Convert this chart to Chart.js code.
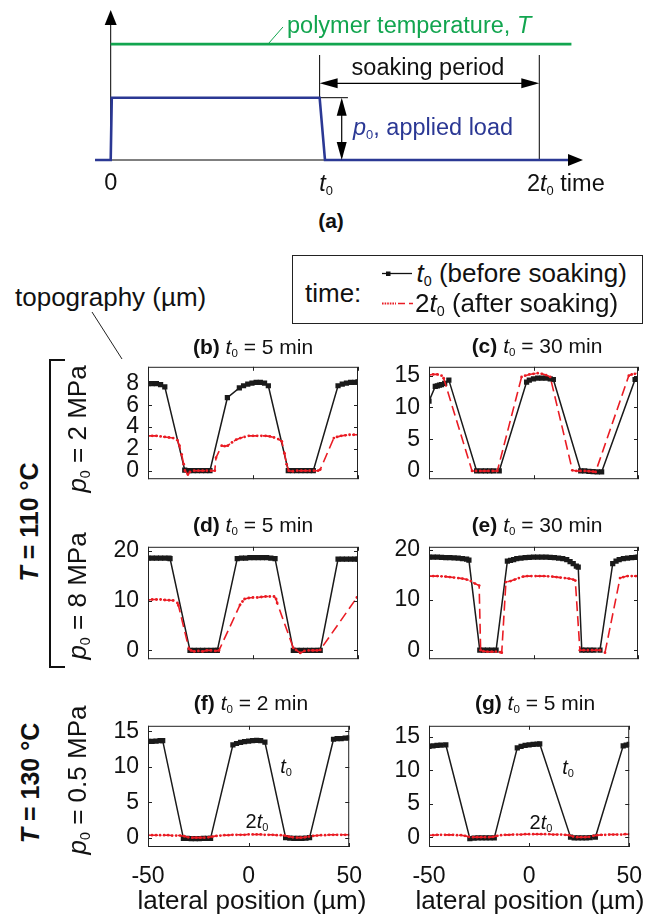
<!DOCTYPE html>
<html>
<head>
<meta charset="utf-8">
<script src="https://cdn.jsdelivr.net/npm/chart.js@4.4.1/dist/chart.umd.min.js"></script>
<style>
  body { margin: 0; background: #fff; width: 652px; height: 917px; overflow: hidden; position: relative;
         font-family: "Liberation Sans", Arial, Helvetica, sans-serif; color: #111; }
  canvas { position: absolute; }
  .t { position: absolute; white-space: nowrap; line-height: 1; }
  sub { font-size: 0.55em; vertical-align: -0.3em; line-height: 0; }
  svg { position: absolute; left: 0; top: 0; }
</style>
</head>
<body>
<svg width="652" height="917">
  <path d="M65 360 H50 V667 H65" stroke="#111" stroke-width="2" fill="none"/>
  <line x1="92" y1="312" x2="122" y2="359" stroke="#222" stroke-width="1"/>
  <rect x="292.5" y="255.5" width="350" height="68" stroke="#222" stroke-width="1" fill="none"/>
  <line x1="382" y1="273.5" x2="412" y2="273.5" stroke="#111" stroke-width="1.3"/>
  <rect x="386" y="271.5" width="4.5" height="4.5" fill="#111"/>
  <line x1="382" y1="303.5" x2="396" y2="303.5" stroke="#ea1c24" stroke-width="2.2" stroke-dasharray="1.6 1"/>
  <line x1="398" y1="303.5" x2="413" y2="303.5" stroke="#ea1c24" stroke-width="1.4" stroke-dasharray="7 4"/>
</svg>
<script>
// lateral position ticks (µm)
const posTicks = [-50, 0, 50];
const bTicks = [0, 2, 4, 6, 8];
const cTicks = [0, 5, 10, 15];
const deTicks = [0, 10, 20];
const fgTicks = [0, 5, 10, 15];

// topography (µm), [position, height]; t0 = before soaking, 2t0 = after soaking
const b_t0 = [[-50,8.0],[-48,8.0],[-46,8.0],[-44,7.9],[-42,7.7],[-32.5,0.05],[-30.5,0],[-28.5,0],[-26.5,0],[-24.5,0],[-22.5,0],[-20.5,0],
  [-12.2,6.7],[-6.5,7.6],[-4.5,7.8],[-2.5,7.95],[-0.5,8.05],[1.5,8.1],[3.5,8.1],[5.5,8.05],[7.3,7.8],
  [16.8,0],[18.8,0],[20.8,0],[22.8,0],[24.8,0],[26.8,0],[28.7,0],[40.5,7.8],[42.5,7.95],[44.5,8.05],[46.5,8.1],[48.5,8.1],[50,8.15]];
const b_2t0 = [[-50,3.2],[-48,3.2],[-46,3.2],[-44,3.15],[-42,3.1],[-40,3.05],[-38,3.0],[-36,2.8],[-35,2.3],[-34,1.5],[-33,0.6],[-32.4,0],
  [-31,-0.35],[-30,-0.1],[-28,0],[-26,0],[-24,0],[-22,0],[-20,0],[-18.2,0],[-17.6,1.2],[-14.9,2.3],[-13.5,2.25],[-12,2.3],[-10,2.6],
  [-8,2.85],[-6,3.0],[-4,3.1],[-2,3.2],[0,3.2],[2,3.2],[4,3.2],[6,3.2],[8,3.15],[10,3.05],[12,2.9],[13.7,2.7],[15,1.6],[16,0.6],[17,0],
  [19,-0.05],[21,0],[23,0],[25,0],[27,0],[29,0],[31,0],[32,0.1],[38.5,3.0],[40,3.1],[42,3.2],[44,3.25],[46,3.3],[48,3.3],[50,3.3]];
const c_t0 = [[-50,11.0],[-47,13.3],[-46,13.4],[-45,13.5],[-44,13.6],[-42.5,13.8],[-40.5,14.3],[-27.2,0],[-25,0],[-23,0],[-21,0],[-19,0],[-16.4,0],
  [-3.3,14.0],[-2,14.3],[0,14.5],[2,14.6],[4,14.6],[6,14.6],[8,14.5],[9.5,14.4],[22.6,0],[24.5,0],[26.5,-0.05],[28.5,-0.1],[30.5,-0.15],[32.6,-0.15],
  [48.6,14.4],[50,14.5]];
const c_2t0 = [[-50,15.1],[-48,15.2],[-46,15.2],[-44,15.0],[-43,14.6],[-29.4,0],[-27.5,0],[-25.5,0],[-23.5,0],[-21.5,0],[-19.5,0],[-17.3,0],
  [-5.7,14.8],[-4,15.0],[-2,15.2],[0,15.3],[2,15.4],[4,15.3],[6,15.1],[8,14.8],[18.6,0.1],[20.5,0],[22.5,0],[24.5,0],[26.5,-0.05],[28.5,-0.1],[29.7,-0.15],
  [45.6,15.0],[47,15.2],[48.5,15.3],[50,15.4]];
const d_t0 = [[-50,18.5],[-48,18.5],[-46,18.5],[-44,18.5],[-42,18.5],[-40,18.5],[-39.5,18.4],[-30,0],[-28,0],[-26,0],[-24,0],[-22,0],[-20,0],[-18,0],[-17,0],
  [-7.5,18.4],[-5.5,18.5],[-3.5,18.5],[-1.5,18.6],[0.5,18.6],[2.5,18.6],[4.5,18.6],[6.5,18.6],[8.5,18.5],[10.5,18.4],
  [19.2,0],[21,0],[23,0],[25,0],[27,0],[29,0],[31,0],[32,0],[40.5,18.3],[42.5,18.3],[44.5,18.3],[46.5,18.3],[48.5,18.3],[50,18.3]];
const d_2t0 = [[-50,10.1],[-48,10.2],[-46,10.2],[-44,10.2],[-42,10.1],[-40,10.05],[-38,10.0],[-36,9.5],[-35.5,9.0],[-30.5,0.3],[-29.5,0],[-28,-0.2],
  [-26,-0.1],[-24,-0.2],[-22,0],[-20,0],[-18,-0.1],[-16.2,0],[-6.2,9.1],[-5,9.8],[-4,10.3],[-2,10.5],[0,10.6],[2,10.6],[4,10.7],[6,10.8],[8,10.8],
  [10,10.8],[11,10.3],[11.5,9.5],[19.2,0.5],[20.5,0.1],[22.5,-0.5],[24.5,-0.1],[26.5,0],[28.5,0],[30.5,0],[32,0.1],[49.5,10.6],[50,10.7]];
const e_t0 = [[-50,18.6],[-48,18.6],[-46,18.6],[-44,18.55],[-42,18.5],[-40,18.5],[-38,18.45],[-36,18.4],[-34,18.3],[-32,18.2],[-30.9,18.0],
  [-25.7,0],[-24,0],[-22,0],[-20,0],[-17.9,0],[-12.5,17.8],[-11,17.95],[-9.5,18.1],[-8,18.3],[-6,18.4],[-4,18.5],[-2,18.55],[0,18.6],[2,18.6],
  [4,18.6],[6,18.6],[8,18.55],[10,18.5],[12,18.4],[14,18.3],[15.9,18.1],[17.5,17.7],[19,17.3],[20.5,16.8],[21.4,16.6],
  [23.1,0],[25,0],[27,0],[29,0],[31.8,0],[37.9,17.3],[39.5,17.8],[41,18.1],[43,18.3],[45,18.4],[47,18.5],[49,18.55],[50,18.6]];
const e_2t0 = [[-50,14.8],[-48,14.8],[-46,14.8],[-44,14.75],[-42,14.7],[-40,14.6],[-38,14.5],[-36,14.4],[-34,14.3],[-32,14.1],[-30,13.8],[-28,13.3],
  [-26,12.9],[-25.3,0],[-24,-0.2],[-22,-0.3],[-20,-0.3],[-18,-0.3],[-16,-0.4],[-15.2,-0.5],[-13.2,13.6],[-11,13.8],[-9,14.1],[-7,14.4],[-5,14.7],
  [-3,14.8],[-1,14.8],[1,14.8],[3,14.8],[5,14.8],[7,14.75],[9,14.7],[11,14.6],[13,14.5],[15,14.4],[17,14.3],[19,14.1],[20,13.9],
  [22.2,0],[24,0],[26,0],[28,0],[30,0],[31.8,0],[34.2,-0.5],[41.4,14.4],[43,14.6],[45,14.8],[47,14.8],[49,14.8],[50,14.8]];
const f_t0 = [[-50,13.6],[-48,13.6],[-46,13.65],[-44,13.7],[-42.7,13.7],[-32.4,-0.1],[-30.5,-0.1],[-28.5,-0.15],[-26.5,-0.15],[-24.5,-0.15],
  [-22.5,-0.1],[-20.5,-0.1],[-18.9,-0.1],[-7.8,13.1],[-6,13.3],[-4,13.45],[-2,13.55],[0,13.65],[2,13.7],[4,13.75],[6,13.7],[8.1,13.5],
  [18.4,0],[20.5,-0.05],[22.5,-0.1],[24.5,-0.1],[26.5,-0.1],[28.5,-0.05],[30.3,0],[42.2,13.9],[44,14.0],[46,14.0],[48,14.05],[50,14.1]];
const f_2t0 = [[-50,0.35],[-48,0.35],[-46,0.35],[-44,0.35],[-42,0.35],[-40,0.35],[-38,0.3],[-36,0.3],[-34,0.3],[-32,0.2],[-30,0.05],[-28,0],
  [-26,0],[-24,0],[-22,0],[-20,0.05],[-18,0.15],[-16,0.25],[-14,0.3],[-12,0.35],[-10,0.35],[-8,0.4],[-6,0.4],[-4,0.4],[-2,0.4],[0,0.45],
  [2,0.45],[4,0.45],[6,0.45],[8,0.4],[10,0.4],[12,0.4],[14,0.35],[16,0.35],[18,0.3],[20,0.15],[22,0.05],[24,0],[26,0],[28,0.05],[30,0.15],
  [32,0.25],[34,0.3],[36,0.35],[38,0.35],[40,0.4],[42,0.4],[44,0.4],[46,0.4],[48,0.4],[50,0.4]];
const g_t0 = [[-50,13.6],[-48,13.7],[-46,13.75],[-44,13.8],[-41.6,13.85],[-29.6,-0.2],[-27.5,-0.15],[-25.5,-0.1],[-23.5,-0.1],[-21.5,-0.1],
  [-19.5,-0.1],[-17.4,-0.1],[-5.9,13.4],[-4,13.6],[-2,13.75],[0,13.85],[2,13.9],[4,13.95],[5.3,14.0],
  [20.7,0],[22.5,-0.1],[24.5,-0.1],[26.5,-0.1],[28.5,-0.1],[30.5,-0.05],[33.1,0],[47,13.7],[48.5,13.8],[50,13.9]];
const g_2t0 = [[-50,0.3],[-48,0.3],[-46,0.35],[-44,0.35],[-42,0.35],[-40,0.35],[-38,0.35],[-36,0.3],[-34,0.3],[-32,0.2],[-30,0.05],[-28,0],
  [-26,0],[-24,0],[-22,0],[-20,0],[-18,0.05],[-16,0.2],[-14,0.3],[-12,0.35],[-10,0.35],[-8,0.4],[-6,0.4],[-4,0.4],[-2,0.45],[0,0.45],
  [2,0.45],[4,0.45],[6,0.45],[8,0.45],[10,0.45],[12,0.4],[14,0.4],[16,0.4],[18,0.35],[20,0.3],[22,0.1],[24,0],[26,0],[28,0],[30,0.05],
  [32,0.2],[34,0.3],[36,0.35],[38,0.35],[40,0.4],[42,0.4],[44,0.4],[46,0.4],[48,0.45],[50,0.45]];

// schematic (a): time in units of t0, level in arbitrary units
const tempLine = [[0,1.86],[2.15,1.86]];
const tempLeader = [[0.734,1.86],[0.804,2.135]];
const loadLine = [[-0.073,0],[0,0],[0.005,1],[0.975,1],[1.0,0],[2.15,0]];
const timeAxis = [[-0.073,0],[2.17,0]];
const levelAxis = [[0,0],[0,2.33]];
const soakStart = [[0.975,1.0],[0.975,1.685]];
const soakEnd = [[2.0,0],[2.0,1.685]];
const soakSpan = [[0.99,1.231],[1.985,1.231]];
const loadTick = [[0.975,1],[1.107,1]];
const loadSpan = [[1.078,0.05],[1.078,0.95]];
const arrowHeads = [[0,2.408,'up',15,6],[2.204,0,'right',15,6],[0.975,1.231,'left',18,5],[2.0,1.231,'right',18,5],
  [1.078,1,'up',18,5],[1.078,0,'down',18,5]];

const BLACK = '#1a1a1a', RED = '#ea1c24', BLUE = '#2b3894', GREEN = '#12a54f';
const FONT = 'Liberation Sans, Arial, sans-serif';
const xy = arr => arr.map(([x, y]) => ({x, y}));

function addCanvas(left, top, w, h) {
  const c = document.createElement('canvas');
  c.width = w; c.height = h;
  c.style.left = left + 'px'; c.style.top = top + 'px';
  document.body.appendChild(c);
  return c.getContext('2d');
}

function label(html, x, y, o = {}) {
  const d = document.createElement('div');
  d.className = 't';
  d.innerHTML = html;
  d.style.left = x + 'px';
  d.style.top = y + 'px';
  d.style.fontSize = (o.size || 22) + 'px';
  if (o.color) d.style.color = o.color;
  if (o.bold) d.style.fontWeight = 'bold';
  const tx = o.align === 'left' ? '0' : '-50%';
  d.style.transform = 'translate(' + tx + ',-50%)' + (o.rot ? ' rotate(' + o.rot + 'deg)' : '');
  document.body.appendChild(d);
}

// ---------- (a) schematic ----------
const arrowPlugin = {
  id: 'arrows',
  afterDatasetsDraw(chart) {
    const {ctx, scales: {x, y}} = chart;
    const dirs = {up: [0, -1], down: [0, 1], left: [-1, 0], right: [1, 0]};
    ctx.save();
    ctx.fillStyle = '#000';
    arrowHeads.forEach(([vx, vy, dir, len, half]) => {
      const px = x.getPixelForValue(vx), py = y.getPixelForValue(vy);
      const [dx, dy] = dirs[dir];
      const bx = px - dx * len, by = py - dy * len;
      ctx.beginPath();
      ctx.moveTo(px, py);
      ctx.lineTo(bx - dy * half, by + dx * half);
      ctx.lineTo(bx + dy * half, by - dx * half);
      ctx.closePath();
      ctx.fill();
    });
    ctx.restore();
  }
};

const seg = (data, color, width) => ({
  data: xy(data), borderColor: color, borderWidth: width, showLine: true,
  pointRadius: 0, clip: false, tension: 0
});

new Chart(addCanvas(0, 0, 652, 200), {
  type: 'scatter',
  data: {
    datasets: [
      seg(loadLine, BLUE, 2.6),
      seg(tempLine, GREEN, 2.6),
      seg(tempLeader, GREEN, 1),
      seg(timeAxis, '#000', 1),
      seg(levelAxis, '#000', 1),
      seg(soakStart, '#000', 1),
      seg(soakEnd, '#000', 1),
      seg(soakSpan, '#000', 1.2),
      seg(loadTick, '#000', 1),
      seg(loadSpan, '#000', 1.2)
    ]
  },
  options: {
    responsive: false,
    animation: false,
    layout: {padding: 0},
    plugins: {legend: {display: false}, tooltip: {enabled: false}},
    scales: {
      x: {type: 'linear', min: -0.5166, max: 2.526, display: false},
      y: {type: 'linear', min: -0.642, max: 2.568, display: false}
    }
  },
  plugins: [arrowPlugin]
});

// ---------- (b)-(g) topography panels ----------
const boxPlugin = {
  id: 'matlabBox',
  afterDatasetsDraw(chart, args, opts) {
    const {ctx, chartArea: a, scales: {x, y}} = chart;
    ctx.save();
    ctx.strokeStyle = '#222';
    ctx.lineWidth = 1;
    ctx.beginPath();
    posTicks.forEach(v => {
      const px = Math.round(x.getPixelForValue(v)) + 0.5;
      ctx.moveTo(px, a.top); ctx.lineTo(px, a.top + 4);
      ctx.moveTo(px, a.bottom); ctx.lineTo(px, a.bottom - 4);
    });
    opts.yTicks.forEach(v => {
      const py = Math.round(y.getPixelForValue(v)) + 0.5;
      ctx.moveTo(a.left, py); ctx.lineTo(a.left + 4, py);
      ctx.moveTo(a.right, py); ctx.lineTo(a.right - 4, py);
    });
    ctx.stroke();
    ctx.strokeRect(a.left + 0.5, a.top + 0.5, a.width - 1, a.height - 1);
    ctx.restore();
  }
};

const panels = [
  {before: b_t0, after: b_2t0, yTicks: bTicks, yMin: -0.78, yMax: 9.54, frame: [148, 359, 210, 128], bottom: false},
  {before: c_t0, after: c_2t0, yTicks: cTicks, yMin: -1.3, yMax: 16.4, frame: [429, 359, 209, 128], bottom: false},
  {before: d_t0, after: d_2t0, yTicks: deTicks, yMin: -1.76, yMax: 20.76, frame: [148, 539, 210, 128], bottom: false},
  {before: e_t0, after: e_2t0, yTicks: deTicks, yMin: -1.8, yMax: 20.65, frame: [429, 539, 209, 128], bottom: false},
  {before: f_t0, after: f_2t0, yTicks: fgTicks, yMin: -1.32, yMax: 15.8, frame: [148, 718, 210, 129], bottom: true},
  {before: g_t0, after: g_2t0, yTicks: fgTicks, yMin: -1.47, yMax: 16.7, frame: [429, 718, 209, 129], bottom: true}
];

panels.forEach(p => {
  const [fx, fy, fw, fh] = p.frame;
  const ctx = addCanvas(fx - 70, fy - 15, fw + 90, fh + 30 + (p.bottom ? 45 : 0));
  new Chart(ctx, {
    type: 'line',
    data: {
      datasets: [
        {
          label: '2t0 (after soaking)', data: xy(p.after), order: 0,
          borderColor: RED, borderWidth: 1.6, borderDash: [10, 5],
          pointStyle: 'circle', pointRadius: 1.4, pointBackgroundColor: RED, pointBorderWidth: 0
        },
        {
          label: 't0 (before soaking)', data: xy(p.before), order: 1,
          borderColor: BLACK, borderWidth: 1.5,
          pointStyle: 'rect', pointRadius: 3.7, pointBackgroundColor: BLACK, pointBorderWidth: 0
        }
      ]
    },
    options: {
      responsive: false,
      animation: false,
      layout: {padding: {top: 15, right: 20, bottom: p.bottom ? 0 : 15, left: 0}},
      plugins: {legend: {display: false}, tooltip: {enabled: false}, matlabBox: {yTicks: p.yTicks}},
      scales: {
        x: {
          type: 'linear', min: -50, max: 50, display: p.bottom,
          grid: {display: false, drawTicks: false}, border: {display: false},
          afterBuildTicks: s => { s.ticks = posTicks.map(v => ({value: v})); },
          afterFit: s => { s.height = p.bottom ? 60 : 0; },
          ticks: {padding: 16, maxRotation: 0, color: '#111', font: {family: FONT, size: 23}}
        },
        y: {
          type: 'linear', min: p.yMin, max: p.yMax,
          grid: {display: false, drawTicks: false}, border: {display: false},
          afterBuildTicks: s => { s.ticks = p.yTicks.map(v => ({value: v})); },
          afterFit: s => { s.width = 70; },
          ticks: {padding: 9, color: '#111', font: {family: FONT, size: 23}}
        }
      }
    },
    plugins: [boxPlugin]
  });
});

// ---------- text ----------
const t0 = '<i>t</i><sub>0</sub>';
label('polymer temperature, <i>T</i>', 287, 26, {size: 23.5, color: GREEN, align: 'left'});
label('soaking period', 428, 68, {size: 23.5});
label('<i>p</i><sub>0</sub>, applied load', 353, 128, {size: 23.5, color: BLUE, align: 'left'});
label('0', 110.7, 183, {size: 23.5});
label(t0, 326, 184, {size: 23.5});
label('2' + t0 + ' time', 527, 184, {size: 23.5, align: 'left'});
label('(a)', 331, 220, {size: 21, bold: true});

label('time:', 305, 293, {size: 26, align: 'left'});
label(t0 + ' (before soaking)', 416.5, 273, {size: 26, align: 'left'});
label('2' + t0 + ' (after soaking)', 415, 303, {size: 26, align: 'left'});
label('topography (µm)', 15, 297, {size: 26, align: 'left'});

label('<b>(b)</b> ' + t0 + ' = 5 min', 253, 346, {size: 21});
label('<b>(c)</b> ' + t0 + ' = 30 min', 537, 345, {size: 21});
label('<b>(d)</b> ' + t0 + ' = 5 min', 253, 524, {size: 21});
label('<b>(e)</b> ' + t0 + ' = 30 min', 537, 524, {size: 21});
label('<b>(f)</b> ' + t0 + ' = 2 min', 251, 702, {size: 21});
label('<b>(g)</b> ' + t0 + ' = 5 min', 535, 702, {size: 21});

label(t0, 286, 766, {size: 20});
label('2' + t0, 257, 821, {size: 20});
label(t0, 568, 767, {size: 20});
label('2' + t0, 541, 822, {size: 20});

label('lateral position (µm)', 252, 900, {size: 26});
label('lateral position (µm)', 530, 900, {size: 26});

label('<i>T</i> = 110 °C', 29, 522, {size: 25, bold: true, rot: -90});
label('<i>T</i> = 130 °C', 30, 783, {size: 25, bold: true, rot: -90});
label('<i>p</i><sub>0</sub> = 2 MPa', 77, 429, {size: 26, rot: -90});
label('<i>p</i><sub>0</sub> = 8 MPa', 77, 596, {size: 26, rot: -90});
label('<i>p</i><sub>0</sub> = 0.5 MPa', 77, 780, {size: 26, rot: -90});
</script>
</body>
</html>
